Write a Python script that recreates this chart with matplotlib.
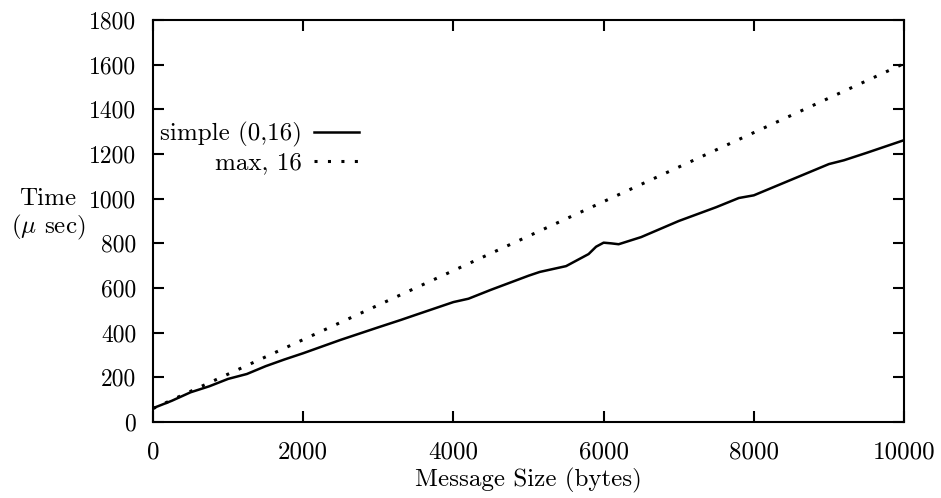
import matplotlib
matplotlib.use("Agg")
import matplotlib.pyplot as plt

size_simple = [0, 100, 250, 500, 750, 1000, 1250, 1500, 1750, 2000, 2500, 3000,
               3300, 3500, 4000, 4200, 4500, 5000, 5150, 5500, 5800, 5900, 6000,
               6100, 6200, 6500, 7000, 7500, 7800, 8000, 8500, 9000, 9200, 9500,
               10000]
time_simple = [62, 75, 95, 133, 160, 193, 215, 250, 280, 308, 368, 424,
               457, 480, 537, 552, 592, 655, 672, 698, 752, 785, 803,
               800, 796, 828, 900, 962, 1003, 1015, 1085, 1155, 1172, 1205,
               1262]

# theoretical max curve
size_max = [0, 10000]
time_max = [60, 1605]

plt.rcParams["font.family"] = "cmr10"
plt.rcParams["mathtext.fontset"] = "cm"
plt.rcParams["axes.unicode_minus"] = False
plt.rcParams["font.size"] = 18

fig = plt.figure(figsize=(9.41, 4.98), dpi=100)
ax = fig.add_axes([0.1626, 0.1526, 0.7981, 0.8072])

ax.plot(size_simple, time_simple, color="black", lw=1.8, label="simple (0,16)")
ax.plot(size_max, time_max, color="black", lw=2.2, linestyle=(0, (1, 3.4)),
        dash_capstyle="butt", label="max, 16")

ax.set_xlim(0, 10000)
ax.set_ylim(0, 1800)
ax.set_xticks(range(0, 10001, 2000))
ax.set_yticks(range(0, 1801, 200))
ax.tick_params(direction="in", length=8, width=1.5, top=True, right=True)
ax.tick_params(axis="x", pad=14)
ax.tick_params(axis="y", pad=12, labelsize=17)
for s in ax.spines.values():
    s.set_linewidth(1.5)

ax.set_xlabel("Message Size (bytes)", labelpad=3)
ax.set_ylabel("Time\n($\\mu$ sec)", rotation=0, ha="center", va="center",
              linespacing=1.1)
ax.yaxis.set_label_coords(-0.14, 0.515)

ax.legend(loc="upper left", bbox_to_anchor=(-0.014, 0.79), frameon=False,
          markerfirst=False, handlelength=1.8, handletextpad=0.5,
          labelspacing=0.2, borderpad=0.2)

fig.savefig("out.png", dpi=100)
